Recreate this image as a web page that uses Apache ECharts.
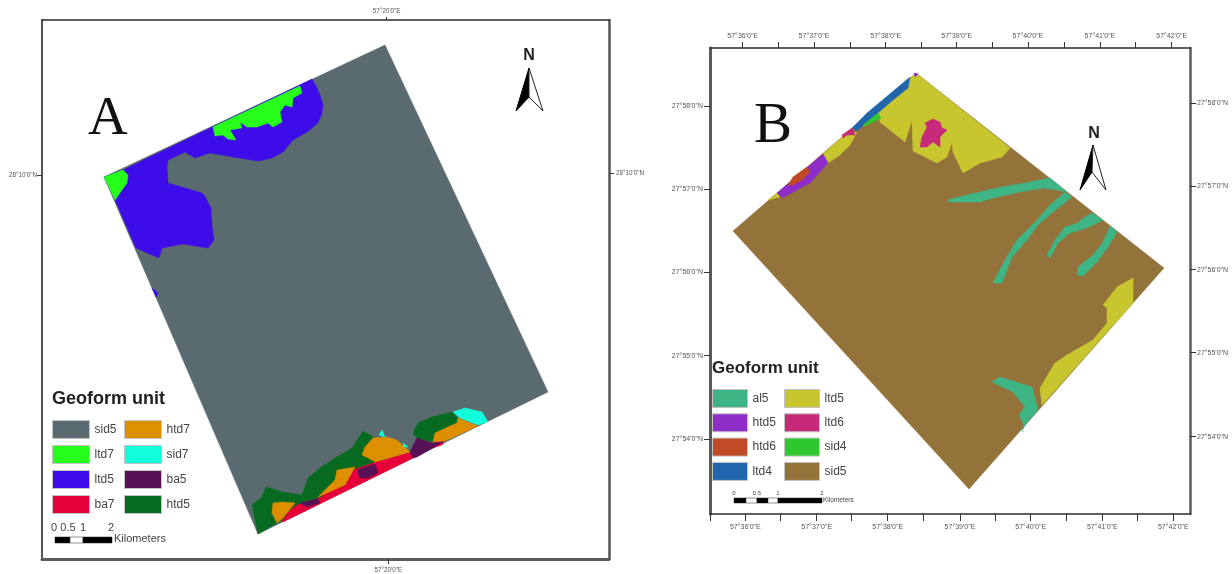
<!DOCTYPE html>
<html><head><meta charset="utf-8">
<style>html,body{margin:0;padding:0;background:#fff}#chart{width:1232px;height:574px;filter:blur(0.6px)}</style>
<script src="https://cdn.jsdelivr.net/npm/echarts@6/dist/echarts.min.js"></script>
</head><body><div id="chart"></div>
<script>
// Map units: easting / northing measured from each map frame's lower-left corner.
// Panel A units and outlines
const aSid5 = [[[343,514],[506,167],[216,25],[62,382]]];
const aLtd5 = [
 [[81,389],[270,480],[275,471],[278,464],[281,454],[280,446],[276,436],[265,427],[251,419],[241,407],[230,401],[216,398],[191,402],[168,406],[153,401],[143,407],[126,399],[125,392],[126,376],[160,366],[164,361],[169,351],[170,332],[171,325],[172,319],[166,311],[141,315],[120,311],[117,301],[94,311],[73,359],[62,382]],
 [[110,271],[116,266],[114,262]]
];
const aLtd7 = [
 [[62,382],[81,389],[86,384],[85,376],[80,369],[73,359]],
 [[171,432],[258,473],[260,466],[251,461],[250,452],[243,454],[238,447],[240,437],[231,432],[226,436],[215,432],[205,432],[198,437],[200,431],[188,429],[194,419],[186,420],[181,424],[173,423]]
];
const aHtd5 = [
 [[216,25],[210,54],[220,62],[224,72],[241,67],[260,64],[266,81],[278,91],[293,101],[310,111],[321,128],[333,121],[338,112],[331,92],[298,76],[275,59],[235,36]],
 [[371,126],[376,136],[390,142],[410,147],[418,139],[415,136],[393,126],[391,117],[375,121]]
];
const aBa7 = [
 [[240,38],[248,49],[255,54],[278,61],[311,89],[331,96],[368,107],[371,101],[241,37]],
 [[393,117],[403,119],[400,114],[390,111]]
];
const aHtd7 = [
 [[235,36],[230,46],[231,56],[240,57],[253,56],[241,41]],
 [[276,62],[285,71],[293,79],[295,89],[313,92],[303,74]],
 [[320,104],[323,112],[331,121],[345,122],[355,119],[368,107],[333,97],[326,101]],
 [[391,117],[393,126],[406,132],[415,136],[416,141],[436,133],[403,118]]
];
const aBa5 = [
 [[368,107],[375,121],[390,116],[401,117],[375,102],[371,101]],
 [[315,89],[333,95],[336,86],[326,81],[318,81]],
 [[258,56],[276,60],[278,56],[265,52]]
];
const aSid7 = [
 [[411,147],[423,151],[440,147],[446,137],[436,134],[418,141]],
 [[337,124],[340,129],[343,122]],
 [[361,116],[366,112],[362,112]]
];
// Panel B units and outlines
const bSid5 = [[[206,441],[454,246],[259,25],[23,283]]];
const bLtd5 = [
 [[206,441],[300,366],[292,357],[270,351],[253,341],[243,362],[242,372],[237,357],[227,351],[203,363],[202,394],[195,372],[170,392],[168,402],[200,435]],
 [[113,360],[132,377],[147,382],[140,369],[130,359],[118,351]],
 [[67,321],[58,314],[70,317]],
 [[423,236],[423,211],[332,109],[330,126],[345,151],[357,159],[383,174],[397,191],[397,206],[393,209],[407,227]]
];
const bAl5 = [
 [[237,314],[265,321],[287,326],[320,332],[340,336],[357,322],[347,324],[333,326],[310,322],[283,316],[270,312],[240,312]],
 [[355,322],[362,317],[343,302],[328,289],[317,274],[302,257],[292,231],[283,231],[295,254],[307,274],[327,294],[340,309]],
 [[373,296],[382,301],[393,294],[377,286],[360,281],[348,271],[340,256],[337,259],[345,274],[355,287],[368,291]],
 [[400,288],[407,282],[398,267],[387,252],[373,238],[367,239],[368,247],[383,259],[393,272]],
 [[282,132],[290,137],[322,127],[328,104],[315,89],[312,82],[314,89],[309,99],[315,107],[303,122]]
];
const bLtd4 = [[[200,437],[198,426],[183,414],[168,401],[157,392],[147,383],[142,386],[157,401]]];
const bSid4 = [[[153,389],[157,392],[168,401],[171,396],[163,392],[155,388]]];
const bHtd5 = [
 [[204,441],[208,440],[205,437]],
 [[67,321],[113,360],[118,351],[100,331],[72,316]]
];
const bHtd6 = [[[78,329],[83,337],[97,347],[100,342],[92,334],[83,329]]];
const bLtd6 = [
 [[132,379],[142,386],[145,379],[137,379],[133,376]],
 [[213,379],[217,387],[215,391],[223,395],[230,392],[232,386],[237,384],[230,377],[230,367],[223,372],[217,367],[210,367],[212,377]]
];
// Graticule tick positions (map units) and labels
const aTopTick=[344.7], aBottomTick=[346.3], aLeftTick=[383.3], aRightTick=[385.7];
const aLonLabels=['57°20\'0"E'], aLatLabels=['28°10\'0"N'];
const bTopTick=[32.7,68,104,140,175.7,211,246.7,282,318,354,390,425,461.7];
const bBottomTick=[0,35.3,70.7,106.7,141.7,177.7,213.3,250,285.7,320.7,356.7,392.3,427.3,463.3];
const bLeftTick=[408,325,242,158.3,75], bRightTick=[410.7,328,244.3,161.3,77.3];
const bLonLabels=['57°36\'0"E','57°37\'0"E','57°38\'0"E','57°39\'0"E','57°40\'0"E','57°41\'0"E','57°42\'0"E'];
const bLatLabels=['27°58\'0"N','27°57\'0"N','27°56\'0"N','27°55\'0"N','27°54\'0"N'];
const bTopMajor=bTopTick.filter((v,i)=>i%2===0), bBottomMajor=bBottomTick.slice(1).filter((v,i)=>i%2===0);
// Legend names and colours
const aLegend1=['sid5','ltd7','ltd5','ba7'], aLegend2=['htd7','sid7','ba5','htd5'];
const bLegend1=['al5','htd5','htd6','ltd4'], bLegend2=['ltd5','ltd6','sid4','sid5'];
const aColors={sid5:'#5a6b70',ltd7:'#27ff1a',ltd5:'#3d0ce8',ba7:'#e8003a',htd7:'#dd8f00',sid7:'#12ffdc',ba5:'#571156',htd5:'#066b21'};
const bColors={al5:'#3fb585',htd5:'#8e2dc8',htd6:'#c04a25',ltd4:'#2166ac',ltd5:'#c8c62f',ltd6:'#c62a78',sid4:'#2ec82e',sid5:'#94733b'};

function unit(name,polys,color,axisIdx){
  return {type:'custom',name,xAxisIndex:axisIdx,yAxisIndex:axisIdx,silent:true,animation:false,clip:false,
    data:polys.map(p=>p[0]),
    itemStyle:{color},
    renderItem:(params,api)=>({type:'polygon',
      shape:{points:polys[params.dataIndex].map(pt=>api.coord(pt))},
      style:{fill:color,stroke:color,lineWidth:0.5}})};
}
function axis(gridIndex,position,max,ticks,majors,labels,margin,len,lineColor,lineWidth,fontSize){
  const lookup=new Map(majors.map((v,i)=>[v,labels[i]]));
  return {type:'value',gridIndex,position,min:0,max,splitLine:{show:false},
    axisLine:{show:true,onZero:false,lineStyle:{color:lineColor,width:lineWidth}},
    axisTick:{show:true,length:len,customValues:ticks,lineStyle:{color:'#333',width:1}},
    axisLabel:{show:true,margin,customValues:majors,fontSize,color:'#555',fontFamily:'Liberation Sans',formatter:v=>lookup.get(v)||''}};
}
function legend(items,colors,left,top,width,gap){
  return {left,top,orient:'vertical',padding:0,itemWidth:width,itemHeight:18,itemGap:gap,icon:'rect',selectedMode:false,
    textStyle:{fontSize:12,color:'#444',fontFamily:'Liberation Sans'},
    data:items.map(n=>({name:n,itemStyle:{color:colors[n],borderColor:'#c4c4c4',borderWidth:1}}))};
}
function txt(x,y,text,font,fill,align,base){
  return {type:'text',x,y,silent:true,style:{text,font,fill:fill||'#222',textAlign:align||'left',textVerticalAlign:base||'middle'}};
}
function rect(x,y,w,h,fill){return {type:'rect',silent:true,shape:{x,y,width:w,height:h},style:{fill,stroke:'#222',lineWidth:0.5}};}
function arrow(ax,ay,lx,ly,nx,ny,rx,ry){return [
  {type:'polygon',silent:true,shape:{points:[[ax,ay],[nx,ny],[lx,ly]]},style:{fill:'#000',stroke:'#000',lineWidth:1}},
  {type:'polygon',silent:true,shape:{points:[[ax,ay],[nx,ny],[rx,ry]]},style:{fill:'#fff',stroke:'#222',lineWidth:1}}
];}
const option={
  animation:false,backgroundColor:'#fff',
  grid:[{left:42,top:20,width:567,height:539},{left:710,top:48,width:480,height:466}],
  xAxis:[
    axis(0,'top',567,aTopTick,aTopTick,aLonLabels,6,3,'#2c2c2c',1.5,6.3),
    axis(0,'bottom',567,aBottomTick,aBottomTick,aLonLabels,8,5,'#5a5a5a',3,6.3),
    axis(1,'top',480,bTopTick,bTopMajor,bLonLabels,8,6,'#2c2c2c',1.5,7),
    axis(1,'bottom',480,bBottomTick,bBottomMajor,bLonLabels,10,7,'#2c2c2c',1.5,7)
  ],
  yAxis:[
    axis(0,'left',539,aLeftTick,aLeftTick,aLatLabels,5,5,'#555',2,6.3),
    axis(0,'right',539,aRightTick,aRightTick,aLatLabels,7,5,'#555',2.5,6.3),
    axis(1,'left',466,bLeftTick,bLeftTick,bLatLabels,7,6,'#5a5a5a',3,7),
    axis(1,'right',466,bRightTick,bRightTick,bLatLabels,7,6,'#5a5a5a',2.5,7)
  ],
  legend:[legend(aLegend1,aColors,52,420,37,6),legend(aLegend2,aColors,124,420,37,6),legend(bLegend1,bColors,712,389,35,5.3),legend(bLegend2,bColors,784,389,35,5.3)],
  series:[
    unit('sid5',aSid5,aColors.sid5,0),unit('ltd5',aLtd5,aColors.ltd5,0),unit('ltd7',aLtd7,aColors.ltd7,0),
    unit('htd5',aHtd5,aColors.htd5,0),unit('ba7',aBa7,aColors.ba7,0),unit('htd7',aHtd7,aColors.htd7,0),
    unit('ba5',aBa5,aColors.ba5,0),unit('sid7',aSid7,aColors.sid7,0),
    unit('sid5',bSid5,bColors.sid5,2),unit('ltd5',bLtd5,bColors.ltd5,2),unit('al5',bAl5,bColors.al5,2),
    unit('ltd4',bLtd4,bColors.ltd4,2),unit('sid4',bSid4,bColors.sid4,2),unit('htd5',bHtd5,bColors.htd5,2),
    unit('htd6',bHtd6,bColors.htd6,2),unit('ltd6',bLtd6,bColors.ltd6,2)
  ],
  graphic:{elements:[
    txt(88,120,'A','55px "Liberation Serif"','#111'),
    txt(754,127,'B','57px "Liberation Serif"','#111'),
    txt(52,399,'Geoform unit','bold 18px "Liberation Sans"','#222'),
    txt(712,368,'Geoform unit','bold 17px "Liberation Sans"','#222'),
    txt(529,56,'N','bold 16px "Liberation Sans"','#222','center'),
    txt(1094,134,'N','bold 16px "Liberation Sans"','#222','center'),
    ...arrow(529,68,516,111,529,97,543,111),
    ...arrow(1093,145,1080,190,1092,172,1106,190),
    rect(55,537,15,6,'#000'),rect(70,537,13,6,'#fff'),rect(83,537,29,6,'#000'),
    txt(54,528,'0','11px "Liberation Sans"','#444','center'),txt(68,528,'0.5','11px "Liberation Sans"','#444','center'),
    txt(83,528,'1','11px "Liberation Sans"','#444','center'),txt(111,528,'2','11px "Liberation Sans"','#444','center'),
    txt(114,539,'Kilometers','11px "Liberation Sans"','#444'),
    rect(734,498,12,5,'#000'),rect(746,498,11,5,'#fff'),rect(757,498,11,5,'#000'),rect(768,498,10,5,'#fff'),rect(778,498,44,5,'#000'),
    txt(734,493,'0','6px "Liberation Sans"','#444','center'),txt(757,493,'0.5','6px "Liberation Sans"','#444','center'),
    txt(778,493,'1','6px "Liberation Sans"','#444','center'),txt(822,493,'2','6px "Liberation Sans"','#444','center'),
    txt(823,500,'Kilometers','6.5px "Liberation Sans"','#444')
  ]}
};
echarts.init(document.getElementById('chart')).setOption(option);
</script></body></html>
